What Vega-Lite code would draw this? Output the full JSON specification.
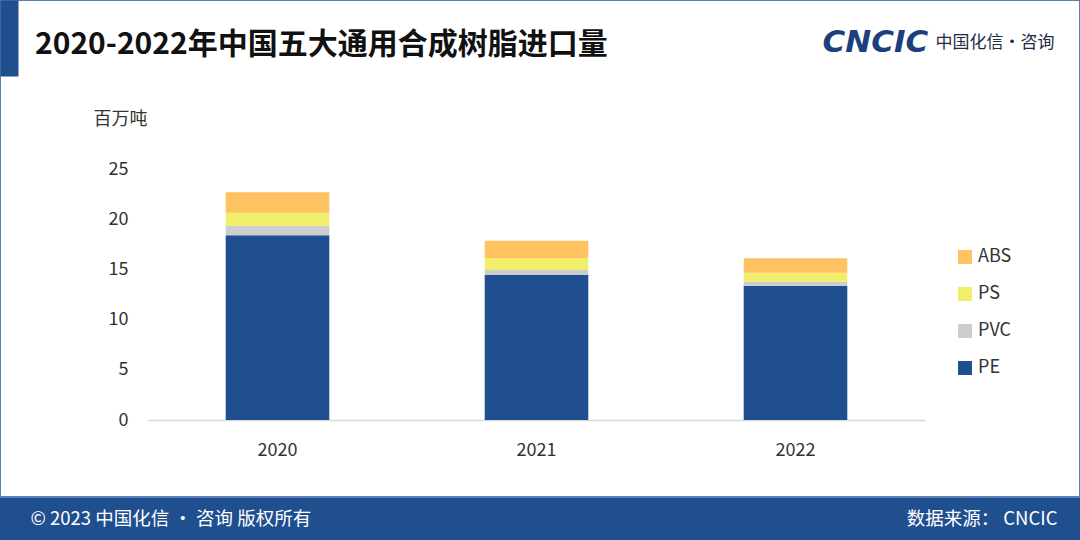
{
  "$schema": "https://vega.github.io/schema/vega-lite/v6.json",
  "width": 1080,
  "height": 497,
  "autosize": "none",
  "padding": {"left": 0, "top": 0, "right": 0, "bottom": 43},
  "background": "#1f4f8e",
  "config": {
    "font": "Noto Sans CJK SC",
    "view": {"fill": "white", "stroke": "#5a7db3", "strokeWidth": 2}
  },
  "title": {
    "text": "2020-2022年中国五大通用合成树脂进口量",
    "anchor": "start",
    "frame": "group",
    "orient": "top",
    "offset": -60,
    "dx": 35,
    "font": "Noto Sans CJK SC",
    "fontSize": 30,
    "fontWeight": "bold",
    "color": "#111111"
  },
  "data": {
    "values": [
      {"year": "2020", "type": "PE", "k": 1, "value": 18.4},
      {"year": "2020", "type": "PVC", "k": 2, "value": 0.95},
      {"year": "2020", "type": "PS", "k": 3, "value": 1.3},
      {"year": "2020", "type": "ABS", "k": 4, "value": 2.03},
      {"year": "2021", "type": "PE", "k": 1, "value": 14.47},
      {"year": "2021", "type": "PVC", "k": 2, "value": 0.47},
      {"year": "2021", "type": "PS", "k": 3, "value": 1.2},
      {"year": "2021", "type": "ABS", "k": 4, "value": 1.72},
      {"year": "2022", "type": "PE", "k": 1, "value": 13.38},
      {"year": "2022", "type": "PVC", "k": 2, "value": 0.4},
      {"year": "2022", "type": "PS", "k": 3, "value": 0.89},
      {"year": "2022", "type": "ABS", "k": 4, "value": 1.43}
    ]
  },
  "layer": [
    {
      "mark": {"type": "bar"},
      "encoding": {
        "x": {
          "field": "year",
          "type": "nominal",
          "scale": {"range": [148, 925], "paddingInner": 0.6, "paddingOuter": 0.3},
          "axis": {
            "orient": "bottom",
            "offset": -77,
            "domainColor": "#d9d9d9",
            "domainWidth": 1.5,
            "ticks": false,
            "grid": false,
            "labelAngle": 0,
            "labelPadding": 21,
            "labelFontSize": 18,
            "labelColor": "#333333",
            "title": "© 2023 中国化信 · 咨询  版权所有",
            "titleX": 30,
            "titleY": 98,
            "titleAlign": "left",
            "titleBaseline": "middle",
            "titleFontSize": 18.5,
            "titleFontWeight": "normal",
            "titleColor": "white"
          }
        },
        "y": {
          "field": "value",
          "type": "quantitative",
          "stack": "zero",
          "scale": {"domain": [0, 25], "range": [420, 169], "nice": false, "zero": true},
          "axis": {
            "orient": "left",
            "offset": -148,
            "values": [0, 5, 10, 15, 20, 25],
            "ticks": false,
            "domain": false,
            "grid": false,
            "labelPadding": 20,
            "labelFontSize": 18,
            "labelColor": "#333333",
            "labelFlush": false,
            "title": "百万吨",
            "titleAngle": 0,
            "titleX": -55,
            "titleY": 119,
            "titleAlign": "left",
            "titleBaseline": "middle",
            "titleFontSize": 18,
            "titleFontWeight": "normal",
            "titleColor": "#333333"
          }
        },
        "color": {
          "field": "type",
          "type": "nominal",
          "scale": {
            "domain": ["ABS", "PS", "PVC", "PE"],
            "range": ["#ffc261", "#f0ee6b", "#cdcdcd", "#1f4f8f"]
          },
          "legend": {
            "orient": "none",
            "legendX": 956,
            "legendY": 248,
            "title": null,
            "padding": 0,
            "symbolType": "square",
            "symbolSize": 196,
            "symbolStrokeWidth": 0,
            "labelFontSize": 18,
            "labelColor": "#333333",
            "labelOffset": 4,
            "rowPadding": 19
          }
        },
        "order": {"field": "k", "type": "quantitative", "sort": "ascending"}
      }
    },
    {
      "mark": {"type": "point", "opacity": 0},
      "encoding": {
        "x": {
          "field": "value",
          "type": "quantitative",
          "scale": {"domain": [0, 1], "range": [0, 1080], "nice": false, "zero": false},
          "axis": {
            "orient": "top",
            "offset": 0,
            "domain": false,
            "ticks": false,
            "labels": false,
            "grid": false,
            "title": "CNCIC",
            "titleX": 822,
            "titleY": 42,
            "titleAlign": "left",
            "titleBaseline": "middle",
            "titleFont": "DejaVu Sans",
            "titleFontSize": 31,
            "titleFontStyle": "italic",
            "titleFontWeight": "bold",
            "titleColor": "#1d3f7d"
          }
        },
        "y": {
          "field": "value",
          "type": "quantitative",
          "scale": {"domain": [0, 1], "range": [0, 76], "nice": false, "zero": false},
          "axis": {
            "orient": "right",
            "offset": -1071,
            "values": [0],
            "domain": true,
            "domainColor": "#1f4f8e",
            "domainWidth": 18,
            "ticks": false,
            "grid": false,
            "labelExpr": "'中国化信·咨询'",
            "labelPadding": 926,
            "labelOffset": 42,
            "labelFlush": false,
            "labelBound": false,
            "labelOverlap": false,
            "labelBaseline": "middle",
            "labelAlign": "left",
            "labelFontSize": 17,
            "labelColor": "#222a44",
            "title": "数据来源： CNCIC",
            "titleAngle": 0,
            "titleX": 1048,
            "titleY": 518,
            "titleAlign": "right",
            "titleBaseline": "middle",
            "titleFontSize": 18.5,
            "titleFontWeight": "normal",
            "titleColor": "white"
          }
        }
      }
    }
  ],
  "resolve": {"scale": {"x": "independent", "y": "independent", "color": "independent"}}
}
